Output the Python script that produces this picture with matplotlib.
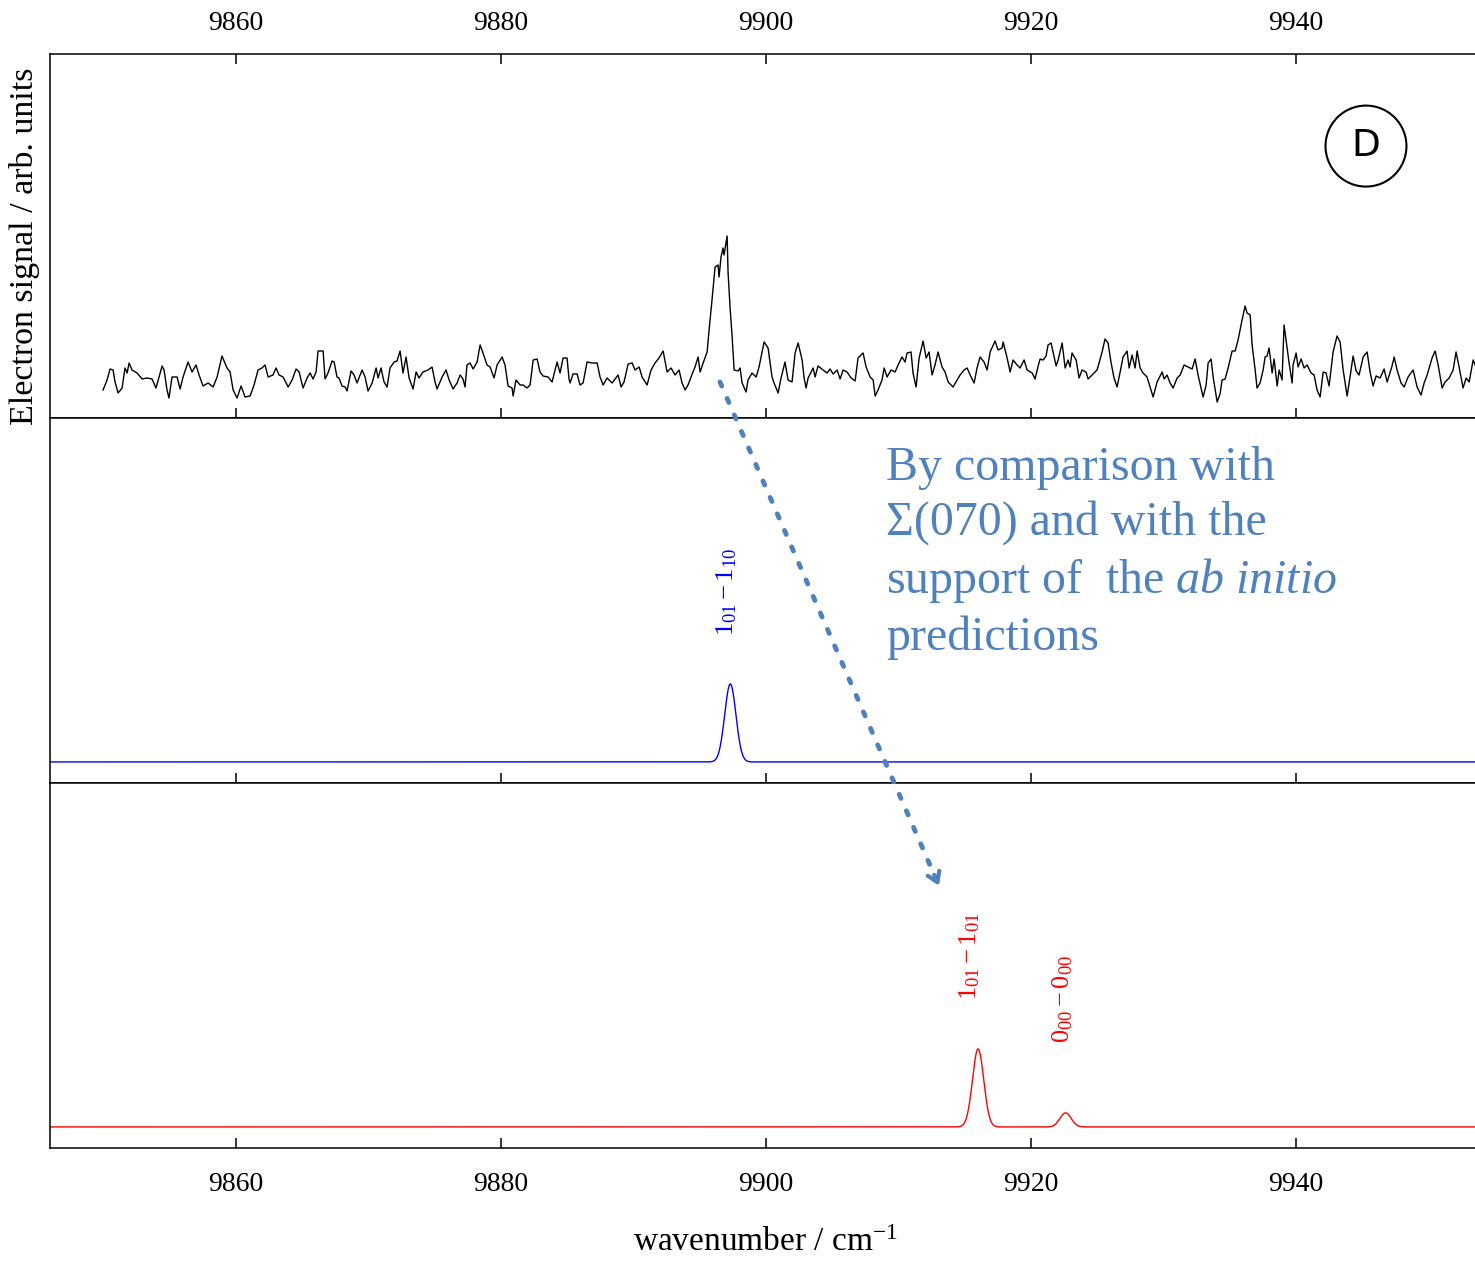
import numpy as np
import matplotlib
matplotlib.use("Agg")
import matplotlib.pyplot as plt
from matplotlib.patches import Ellipse, ConnectionPatch

plt.rcParams["font.family"] = ["Liberation Serif", "DejaVu Serif"]
plt.rcParams["mathtext.fontset"] = "custom"
plt.rcParams["mathtext.rm"] = "Liberation Serif"
plt.rcParams["mathtext.it"] = "Liberation Serif:italic"
plt.rcParams["mathtext.bf"] = "Liberation Serif:bold"

# ---------------- measured electron signal (arb. units) ----------------
wn_exp = [
    9849.96, 9850.27, 9850.49, 9850.72, 9850.87, 9851.10, 9851.40, 9851.62, 9851.78, 9851.93,
    9852.15, 9852.53, 9852.91, 9853.28, 9853.66, 9853.96, 9854.42, 9854.57, 9854.79, 9854.94,
    9855.17, 9855.55, 9855.78, 9856.00, 9856.38, 9856.68, 9856.98, 9857.21, 9857.51, 9857.89,
    9858.27, 9858.57, 9858.94, 9859.32, 9859.55, 9859.78, 9860.08, 9860.38, 9860.68, 9861.06,
    9861.36, 9861.66, 9861.96, 9862.19, 9862.42, 9862.79, 9863.02, 9863.25, 9863.55, 9863.93,
    9864.23, 9864.53, 9864.76, 9865.06, 9865.36, 9865.59, 9865.81, 9866.04, 9866.19, 9866.57,
    9866.72, 9866.94, 9867.25, 9867.40, 9867.62, 9867.77, 9868.00, 9868.23, 9868.38, 9868.68,
    9868.91, 9869.13, 9869.51, 9869.74, 9869.96, 9870.27, 9870.57, 9870.72, 9870.94, 9871.17,
    9871.40, 9871.62, 9871.93, 9872.15, 9872.38, 9872.60, 9872.83, 9873.06, 9873.36, 9873.59,
    9873.81, 9874.11, 9874.49, 9874.79, 9875.02, 9875.17, 9875.55, 9875.85, 9876.08, 9876.38,
    9876.68, 9876.91, 9877.13, 9877.28, 9877.43, 9877.66, 9877.89, 9878.19, 9878.42, 9878.64,
    9878.94, 9879.17, 9879.47, 9879.70, 9880.08, 9880.30, 9880.53, 9880.83, 9880.91, 9881.13,
    9881.43, 9881.66, 9881.96, 9882.19, 9882.42, 9882.72, 9882.94, 9883.17, 9883.55, 9883.85,
    9884.23, 9884.45, 9884.68, 9884.98, 9885.13, 9885.21, 9885.43, 9885.74, 9885.96, 9886.19,
    9886.49, 9886.87, 9887.25, 9887.47, 9887.70, 9888.00, 9888.38, 9888.83, 9889.06, 9889.28,
    9889.59, 9889.89, 9890.11, 9890.42, 9890.64, 9891.02, 9891.32, 9891.62, 9891.92, 9892.23,
    9892.53, 9892.83, 9893.13, 9893.43, 9893.66, 9893.89, 9894.11, 9894.42, 9894.64, 9894.87,
    9895.02, 9895.25, 9895.55, 9895.70, 9895.92, 9896.15, 9896.38, 9896.45, 9896.60, 9896.75,
    9896.83, 9897.06, 9897.13, 9897.28, 9897.43, 9897.59, 9897.89, 9898.04, 9898.19, 9898.49,
    9898.64, 9898.94, 9899.25, 9899.47, 9899.85, 9900.15, 9900.45, 9900.60, 9900.91, 9901.13,
    9901.43, 9901.66, 9901.96, 9902.19, 9902.42, 9902.72, 9902.87, 9903.02, 9903.17, 9903.55,
    9903.70, 9903.92, 9904.30, 9904.60, 9904.83, 9905.06, 9905.36, 9905.59, 9905.81, 9906.11,
    9906.42, 9906.72, 9906.94, 9907.32, 9907.55, 9907.85, 9908.08, 9908.23, 9908.45, 9908.75,
    9908.91, 9909.13, 9909.43, 9909.74, 9909.96, 9910.26, 9910.49, 9910.64, 9910.94, 9911.09,
    9911.32, 9911.55, 9911.85, 9912.08, 9912.30, 9912.53, 9912.75, 9912.98, 9913.28, 9913.51,
    9913.74, 9914.11, 9914.42, 9914.64, 9914.94, 9915.17, 9915.47, 9915.70, 9915.92, 9916.15,
    9916.45, 9916.68, 9916.91, 9917.28, 9917.51, 9917.81, 9917.89, 9918.19, 9918.42, 9918.64,
    9918.94, 9919.17, 9919.47, 9919.70, 9920.08, 9920.30, 9920.53, 9920.68, 9920.91, 9921.13,
    9921.28, 9921.51, 9921.66, 9921.89, 9922.04, 9922.34, 9922.57, 9922.79, 9922.94, 9923.09,
    9923.40, 9923.62, 9923.85, 9924.15, 9924.30, 9924.60, 9924.98, 9925.36, 9925.58, 9925.81,
    9926.04, 9926.26, 9926.49, 9926.72, 9926.94, 9927.24, 9927.40, 9927.62, 9927.85, 9928.00,
    9928.23, 9928.45, 9928.75, 9928.98, 9929.21, 9929.51, 9929.89, 9930.04, 9930.26, 9930.49,
    9930.72, 9931.02, 9931.25, 9931.55, 9931.85, 9932.15, 9932.38, 9932.60, 9932.98, 9933.21,
    9933.36, 9933.58, 9933.74, 9934.04, 9934.26, 9934.41, 9934.64, 9934.87, 9935.17, 9935.40,
    9935.62, 9935.92, 9936.15, 9936.30, 9936.53, 9936.68, 9936.91, 9937.05, 9937.28, 9937.51,
    9937.66, 9937.81, 9937.96, 9938.19, 9938.34, 9938.57, 9938.72, 9938.94, 9939.09, 9939.32,
    9939.47, 9939.70, 9939.77, 9940.00, 9940.15, 9940.38, 9940.60, 9940.83, 9941.13, 9941.36,
    9941.58, 9941.81, 9942.04, 9942.26, 9942.49, 9942.79, 9943.09, 9943.32, 9943.55, 9943.85,
    9944.07, 9944.30, 9944.53, 9944.75, 9945.06, 9945.36, 9945.58, 9945.81, 9946.04, 9946.34,
    9946.64, 9946.87, 9947.24, 9947.40, 9947.62, 9947.92, 9948.15, 9948.45, 9948.83, 9949.13,
    9949.43, 9949.66, 9949.89, 9950.26, 9950.49, 9950.72, 9951.02, 9951.24, 9951.55, 9951.85,
    9952.07, 9952.30, 9952.60, 9952.83, 9953.06, 9953.36, 9953.51,
]
sig_exp = [
    28, 38, 49, 48, 36, 25, 30, 50, 45, 55,
    48, 45, 39, 40, 39, 30, 52, 48, 28, 20,
    41, 41, 29, 41, 56, 46, 53, 43, 32, 35,
    31, 41, 62, 50, 46, 28, 20, 32, 21, 22,
    33, 48, 50, 53, 41, 43, 50, 43, 41, 31,
    38, 49, 46, 30, 40, 45, 39, 46, 67, 67,
    39, 45, 57, 56, 41, 40, 32, 31, 27, 47,
    43, 35, 48, 41, 27, 35, 50, 40, 50, 36,
    31, 50, 56, 57, 67, 45, 61, 40, 29, 46,
    40, 46, 48, 51, 36, 29, 41, 48, 38, 29,
    35, 43, 39, 31, 53, 55, 49, 56, 73, 65,
    53, 51, 40, 53, 61, 53, 32, 30, 22, 38,
    33, 33, 30, 33, 58, 59, 46, 42, 41, 36,
    56, 45, 60, 60, 39, 35, 44, 44, 33, 35,
    56, 55, 55, 41, 33, 40, 35, 43, 31, 36,
    54, 55, 48, 51, 41, 33, 48, 55, 60, 67,
    46, 50, 43, 48, 35, 28, 33, 44, 51, 61,
    46, 55, 66, 88, 118, 151, 153, 141, 161, 170,
    163, 182, 146, 111, 83, 48, 47, 50, 35, 26,
    38, 45, 41, 51, 76, 70, 41, 35, 25, 40,
    56, 38, 36, 65, 75, 58, 40, 30, 40, 50,
    41, 52, 48, 45, 49, 44, 48, 39, 48, 46,
    40, 37, 60, 65, 51, 41, 38, 22, 28, 38,
    50, 41, 48, 46, 53, 61, 56, 65, 66, 45,
    31, 60, 77, 60, 66, 43, 53, 66, 51, 46,
    36, 31, 38, 43, 48, 50, 41, 35, 50, 61,
    56, 48, 66, 77, 68, 70, 76, 60, 46, 58,
    53, 50, 58, 48, 45, 39, 52, 59, 58, 62,
    73, 75, 66, 52, 58, 75, 50, 58, 51, 65,
    58, 40, 48, 46, 39, 43, 48, 66, 79, 75,
    55, 40, 31, 46, 61, 67, 50, 63, 50, 67,
    50, 45, 41, 31, 21, 36, 46, 39, 43, 35,
    30, 40, 43, 53, 51, 49, 59, 43, 21, 33,
    55, 59, 41, 16, 24, 38, 39, 50, 67, 67,
    78, 98, 112, 105, 103, 73, 48, 30, 35, 48,
    61, 62, 70, 45, 59, 32, 48, 38, 93, 70,
    55, 35, 53, 65, 51, 59, 50, 53, 45, 43,
    28, 21, 46, 45, 32, 66, 82, 76, 48, 22,
    41, 62, 47, 43, 61, 66, 46, 32, 42, 40,
    49, 36, 52, 61, 48, 35, 31, 41, 48, 31,
    23, 35, 43, 60, 67, 53, 30, 36, 40, 48,
    66, 51, 30, 40, 36, 58, 53,
]

# ---------------- simulated rotational line lists ----------------
lines_110 = [9897.3]          # 1_01 - 1_10
ints_110 = [1.0]
lines_101 = [9916.0, 9922.6]  # 1_01 - 1_01, 0_00 - 0_00
ints_101 = [1.0, 0.18]
fwhm = 1.0

x_ticks = [9860, 9880, 9900, 9920, 9940]
x_range = (9845.96, 9953.5)


def simulate(grid, centres, heights, width):
    sigma = width / 2.3548
    out = np.zeros_like(grid)
    for c, h in zip(centres, heights):
        out += h * np.exp(-0.5 * ((grid - c) / sigma) ** 2)
    return out


grid = np.linspace(x_range[0], x_range[1], 4000)

fig = plt.figure(figsize=(14.75, 12.61), dpi=100)
L, W = 50 / 1475, 1425 / 1475
ax_top = fig.add_axes([L, 0.66852, W, 0.28866])
ax_mid = fig.add_axes([L, 0.37906, W, 0.28945], sharex=ax_top)
ax_bot = fig.add_axes([L, 0.08961, W, 0.28945], sharex=ax_top)

ax_top.plot(wn_exp, sig_exp, color="black", lw=1.0)
ax_top.set_ylim(0, 364)

ax_mid.plot(grid, simulate(grid, lines_110, ints_110, fwhm), color="blue", lw=1.0)
ax_bot.plot(grid, simulate(grid, lines_101, ints_101, fwhm), color="red", lw=1.0)
for ax in (ax_mid, ax_bot):
    ax.set_ylim(-0.27, 4.41)

for ax in (ax_top, ax_mid, ax_bot):
    ax.set_xlim(*x_range)
    ax.set_xticks(x_ticks)
    ax.set_yticks([])
    ax.spines["right"].set_visible(False)
    for s in ax.spines.values():
        s.set_linewidth(1.1)
    ax.tick_params(axis="x", direction="in", length=7, width=1.1,
                   labelsize=20, pad=13, bottom=True, labelbottom=False)

ax_top.tick_params(axis="x", top=True, labeltop=True)
ax_bot.tick_params(axis="x", labelbottom=True, pad=17)

# transition labels
lab_kw = dict(rotation=90, ha="center", va="bottom", fontsize=19)
ax_mid.text(9897.06, 1.62, r"$1_{01}-1_{10}$", color="blue", **lab_kw)
ax_bot.text(9915.4, 1.63, r"$1_{01}-1_{01}$", color="red", **lab_kw)
ax_bot.text(9922.4, 1.08, r"$0_{00}-0_{00}$", color="red", **lab_kw)

# panel tag
ax_top.add_patch(Ellipse((0.9235, 0.747), 0.0568, 0.2225, transform=ax_top.transAxes,
                         fill=False, lw=1.5, color="black"))
ax_top.text(0.9235, 0.747, "D", transform=ax_top.transAxes, ha="center", va="center",
            fontsize=27, family="DejaVu Sans")

# axis titles
fig.text(25 / 1475, 1 - 246 / 1261, "Electron signal / arb. units", rotation=90,
         ha="center", va="center", fontsize=24.5)
fig.text(765 / 1475, 1 - 1243 / 1261, r"wavenumber / cm$^{-1}$", ha="center",
         va="center", fontsize=24)

# assignment note and arrow
note_col = "#4f81bd"
fig.text(886 / 1475, 1 - 446 / 1261,
         "By comparison with\nΣ(070) and with the\nsupport of  the $\\mathit{ab\\ initio}$\npredictions",
         color=note_col, fontsize=34.5, ha="left", va="top", linespacing=1.3)

start = (9896.52, 36)
end = (9913.13, 3.06)
con = ConnectionPatch(xyA=start, coordsA=ax_top.transData, xyB=end, coordsB=ax_bot.transData,
                      color=note_col, lw=3.5, linestyle=(0, (0.9, 2.8)), zorder=5)
fig.add_artist(con)
ax_bot.annotate("", xy=end, xytext=(-5.0, 11.5), textcoords="offset points",
                arrowprops=dict(arrowstyle="->,head_length=0.7,head_width=0.45",
                                color=note_col, lw=3))

fig.savefig("out.png", dpi=100)
